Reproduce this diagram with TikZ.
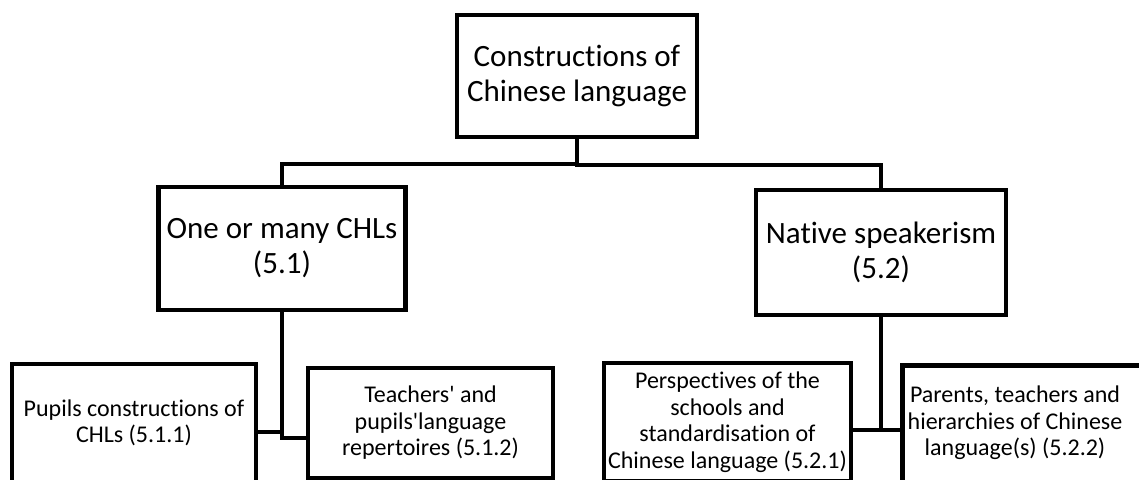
\documentclass[tikz,border=0pt]{standalone}
\usepackage{fontspec}
\setmainfont{Carlito}[Ligatures={TeX,NoCommon}]
\begin{document}
\begin{tikzpicture}[x=1pt,y=-1pt,
  box/.style={draw=black, line width=4.5pt, fill=white, align=center, inner sep=0pt},
  big/.style={font=\fontsize{31}{35}\selectfont},
  small/.style={font=\fontsize{24}{26.5}\selectfont},
  link/.style={draw=black, line width=4pt}]
\useasboundingbox (0,0) rectangle (1139,479);

\node[box,big,minimum width=240,minimum height=122] (top) at (577,76) {Constructions of\\Chinese language};
\node[box,big,minimum width=247,minimum height=123] (b51) at (282,248.5) {One or many CHLs\\(5.1)};
\node[box,big,minimum width=250,minimum height=125] (b52) at (881,252.5) {Native speakerism\\(5.2)};

\node[box,small,minimum width=244,minimum height=118] (b511) at (134,423) {Pupils constructions of\\CHLs (5.1.1)};
\node[box,small,minimum width=245,minimum height=110] (b512) at (430.5,423) {Teachers\textquotesingle{} and\\pupils\textquotesingle language\\repertoires (5.1.2)};
\node[box,small,minimum width=247,minimum height=118] (b521) at (727.5,422) {Perspectives of the\\schools and\\standardisation of\\Chinese language (5.2.1)};
\node[box,minimum width=260,minimum height=124,anchor=north west] (b522) at (900,363) {};
\node[small,align=center,inner sep=0pt] (t522) at (1015,423) {Parents, teachers and\\hierarchies of Chinese\\language(s) (5.2.2)};

\coordinate (j1) at (0,432);
\coordinate (j2) at (0,438);
\coordinate (j3) at (0,430);

\draw[link] (top.south) -- ++(0,25) -| (b51.north);
\draw[link] (top.south) -- ++(0,26) -| (b52.north);

\draw[link] (b511.east |- j1) -- (b51.south |- j1);
\draw[link] (b51.south) -- (b51.south |- j2) -- (b512.west |- j2);

\draw[link] (b52.south) -- (b52.south |- j3);
\draw[link] (b521.east |- j3) -- (b522.west |- j3);
\end{tikzpicture}
\end{document}
